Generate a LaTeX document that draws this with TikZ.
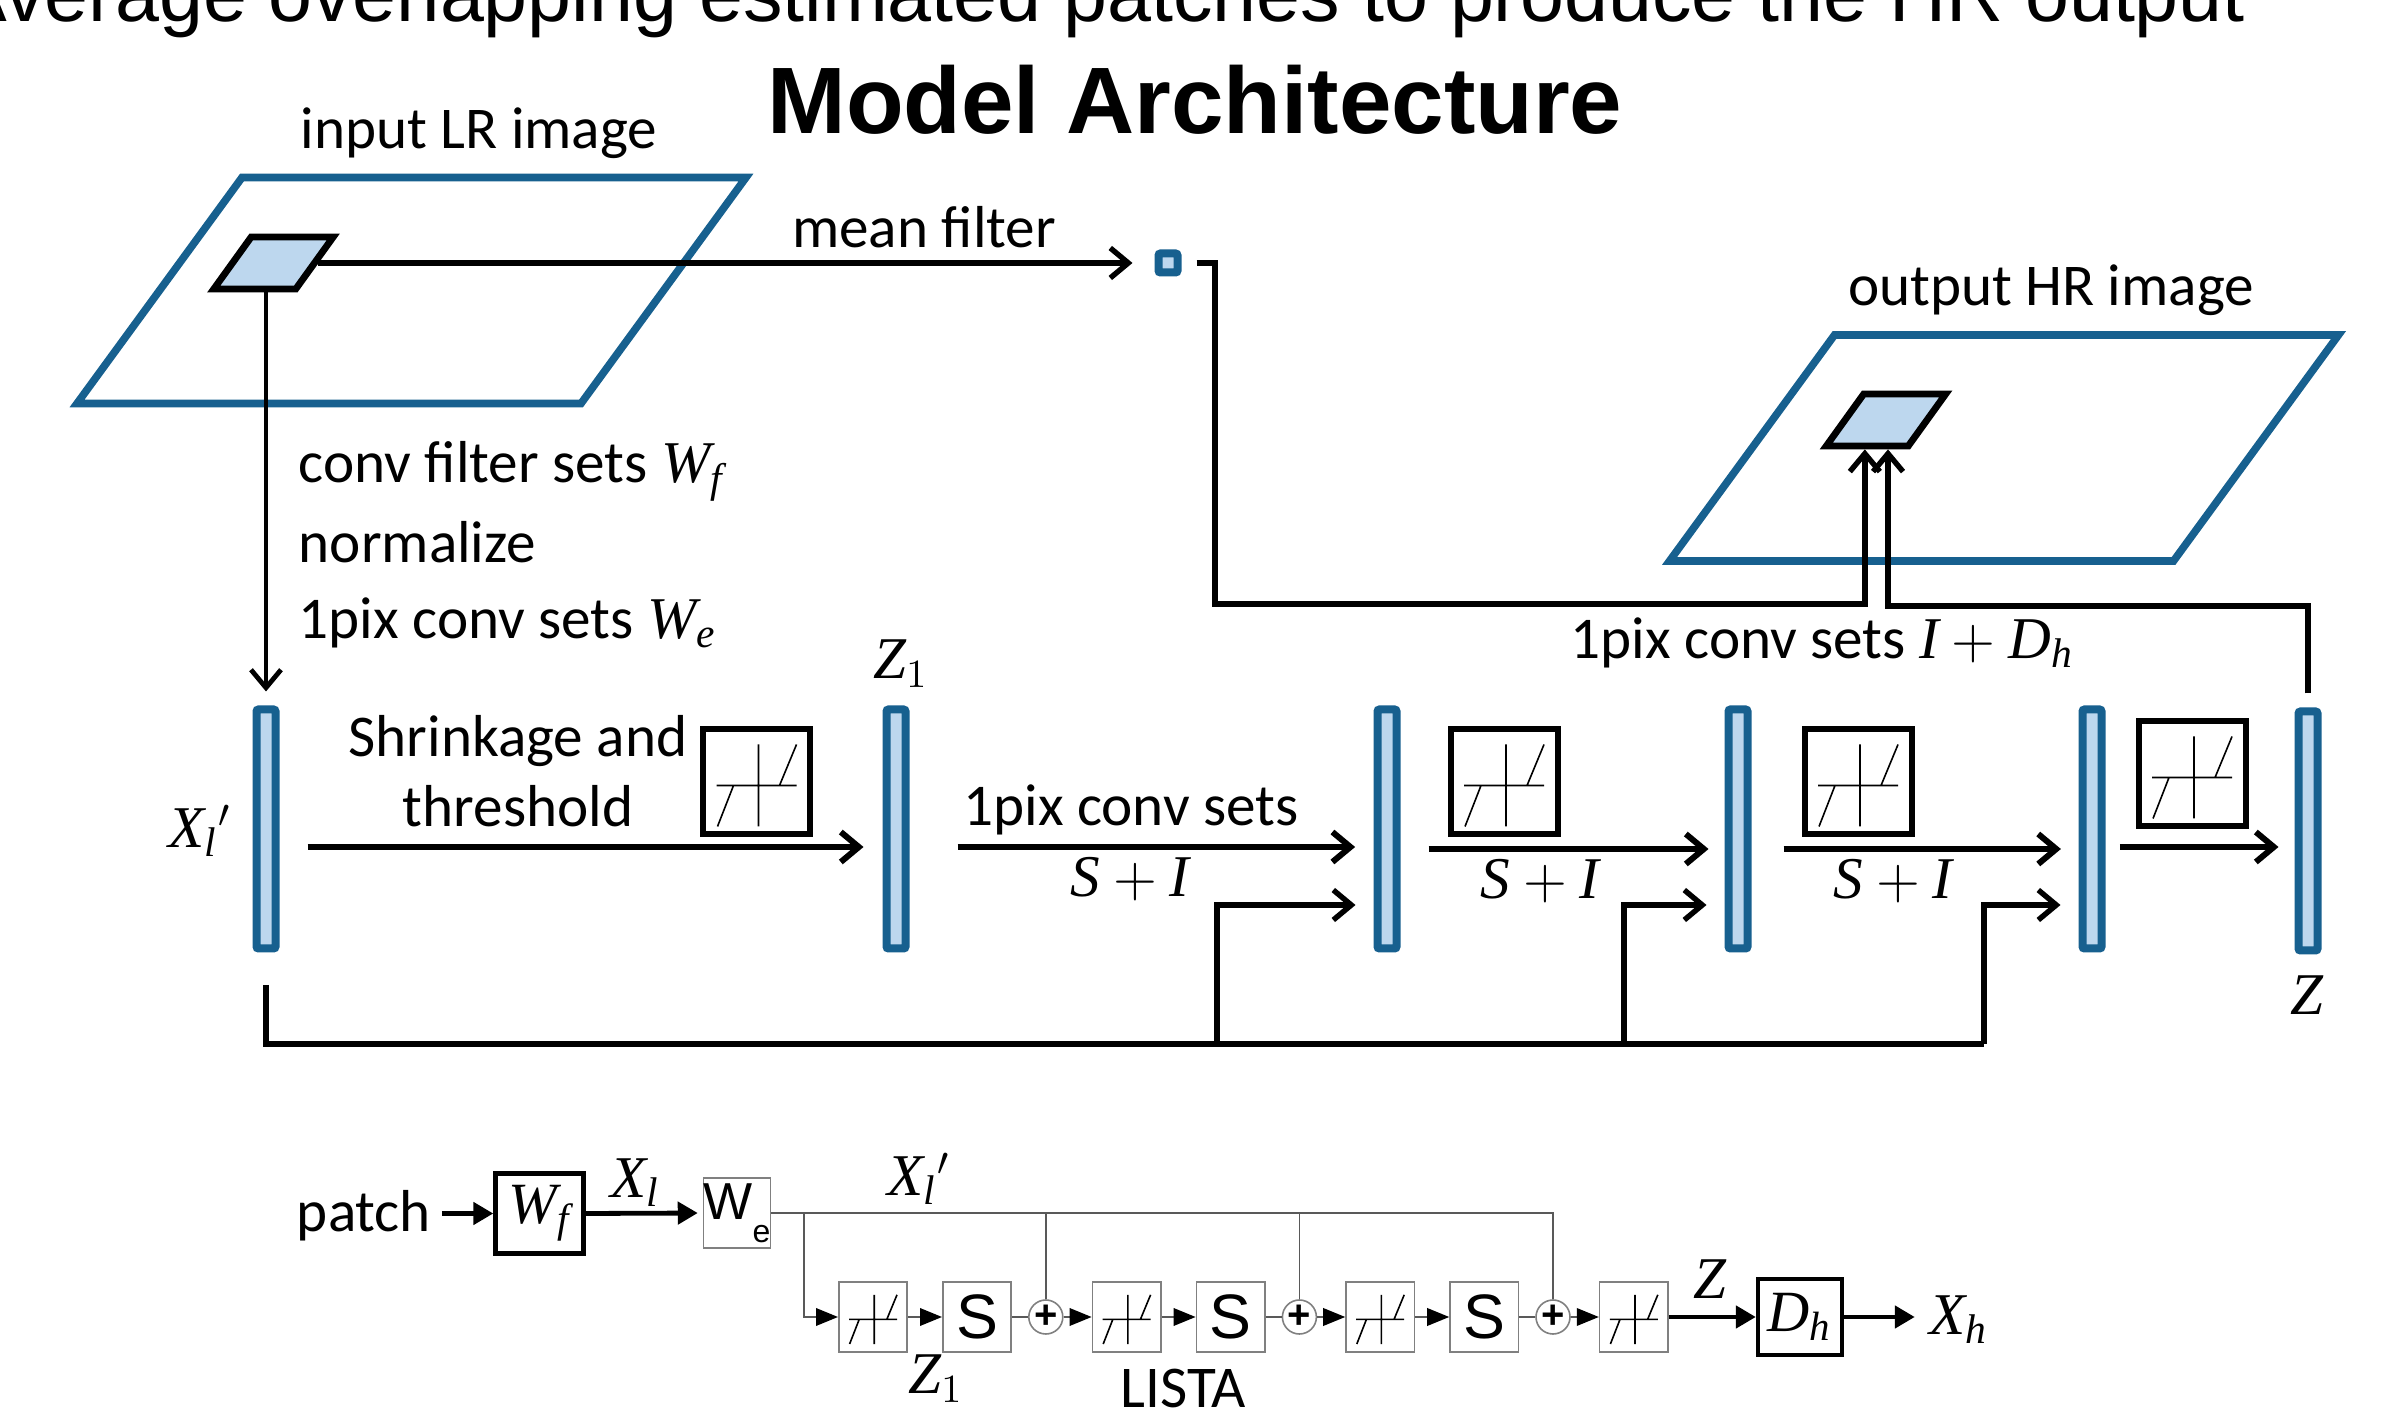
\documentclass[tikz,border=0pt]{standalone}
\usepackage{amsmath}
\usepackage{fontspec}
\setmainfont{Carlito}
\newfontfamily\arialfont{Liberation Sans}
\newfontfamily\serifit{Liberation Serif}
\usetikzlibrary{arrows.meta,positioning,calc}

\definecolor{slabblue}{HTML}{17608F}
\definecolor{slabfill}{HTML}{BDD7EE}

\newcommand{\mv}[1]{\text{\serifit\itshape #1}}

\tikzset{
  txt/.style={inner sep=0pt,font=\fontsize{14.8}{17}\selectfont},
  slab/.style={draw=slabblue,line width=1.9pt,xslant=0.73,transform shape,minimum width=126pt,minimum height=56.5pt,inner sep=0pt},
  patchbox/.style={draw=black,fill=slabfill,line width=1.7pt,xslant=0.72,transform shape,minimum width=20.5pt,minimum height=13pt,inner sep=0pt},
  barnode/.style={draw=slabblue,fill=slabfill,line width=2pt,rounded corners=0.5pt,minimum width=4.75pt,minimum height=59.75pt,inner sep=0pt},
  threshbox/.style={draw=black,line width=1.5pt,minimum width=26.75pt,minimum height=26.25pt,inner sep=0pt},
  listabox/.style={draw=gray,line width=0.4pt,minimum width=17.1pt,minimum height=17.5pt,inner sep=0pt,font=\arialfont\fontsize{15.7}{17}\selectfont},
  plusnode/.style={circle,draw=gray,line width=0.4pt,minimum size=8.5pt,inner sep=0pt,font=\arialfont\bfseries\fontsize{10}{10}\selectfont},
  blockbox/.style={draw=black,line width=1.1pt,inner sep=0pt,font=\fontsize{14.6}{17}\selectfont},
  mainline/.style={->,line width=1.35pt},
  blockline/.style={-{Triangle[length=5pt,width=5.5pt]},line width=1.2pt},
  wire/.style={gray!70!black,line width=0.4pt},
  wirearrow/.style={wire,-{Triangle[length=5.5pt,width=4.4pt,color=black]}},
}

\newcommand{\threshmark}[2]{
  \draw[shift={(#1.center)},scale=#2,line width=0.4pt]
    (-40,4) -- (40,4) (2,-37) -- (2,45) (23,4) -- (40,-37) (-23,4) -- (-39,45);
}

\begin{document}
\begin{tikzpicture}[x=0.25pt,y=-0.25pt,>={Straight Barb[length=4.5pt,width=7.5pt]}]
  \useasboundingbox (0,0) rectangle (2397,1419);

  \node[anchor=base east,inner sep=0pt,font=\arialfont\fontsize{19.75}{22}\selectfont] (headline) at (2246,22) {Average overlapping estimated patches to produce the HR output};
  \node[anchor=base,inner sep=0pt,font=\arialfont\bfseries\fontsize{23.6}{26}\selectfont] (title) at (1195,134) {Model Architecture};

  % images
  \node[slab] (lrimage) at (411.5,290.5) {};
  \node[patchbox] (lrpatch) at (273.5,263) {};
  \node[slab] (hrimage) at (2004,448) {};
  \node[patchbox] (hrpatch) at (1886,420) {};
  \node[barnode,minimum height=4.75pt] (meanbar) at (1168,263) {};

  \node[txt,anchor=base] (lrlabel) at (479,149) {input LR image};
  \node[txt,anchor=base] (hrlabel) at (2051,306) {output HR image};
  \node[txt,anchor=base] (meanlabel) at (924,248) {mean filter};
  \node[txt,anchor=base west] (convlabel) at (298,483) {conv filter sets $\mv{W}_{\mv{f}}$};
  \node[txt,anchor=base west] (normlabel) at (298,563) {normalize};
  \node[txt,anchor=base west] (pixlabel) at (298,639) {1pix conv sets $\mv{W}_{\mv{e}}$};
  \node[txt,anchor=base west] (outlabel) at (1570,659) {1pix conv sets $\mv{I}+\mv{D}_{\mv{h}}$};

  % feature bars
  \node[barnode] (xbar) at (266,829) {};
  \node[barnode] (zonebar) at (896,829) {};
  \node[barnode] (sbara) at (1387,829) {};
  \node[barnode] (sbarb) at (1738,829) {};
  \node[barnode] (sbarc) at (2092,829) {};
  \node[barnode] (zbar) at (2308,831) {};

  \node[txt,anchor=base] (xlabel) at (200,848) {$\mv{X}_{\mv{l}}{}'$};
  \node[txt,anchor=base] (zonelabel) at (901,679) {$\mv{Z}_1$};
  \node[txt,anchor=base] (zlabel) at (2307,1015) {$\mv{Z}$};
  \node[txt,anchor=base] (shrinklabel) at (518,757) {Shrinkage and};
  \node[txt,anchor=base] (threshlabel) at (518,827) {threshold};
  \node[txt,anchor=base] (setslabel) at (1131,826) {1pix conv sets};
  \node[txt,anchor=base] (silabela) at (1130,897) {$\mv{S}+\mv{I}$};
  \node[txt,anchor=base] (silabelb) at (1540,899) {$\mv{S}+\mv{I}$};
  \node[txt,anchor=base] (silabelc) at (1893,899) {$\mv{S}+\mv{I}$};

  \node[threshbox] (tha) at (756.5,781.5) {};
  \node[threshbox] (thb) at (1504,781.5) {};
  \node[threshbox] (thc) at (1858,781.5) {};
  \node[threshbox] (thd) at (2192,773.5) {};
  \foreach \b in {tha,thb,thc,thd} {\threshmark{\b}{1}}

  \coordinate (meanturn) at (1215,604);
  \coordinate (hrturn) at (1888,606);
  \coordinate (fbstart) at (266,985);
  \coordinate (fbend) at (1984,1044);
  \coordinate (tapa) at (1217,1044);
  \coordinate (tapb) at (1624,1044);

  \draw[mainline,shorten >=5.5pt] (lrpatch.east) -- (meanbar.west);
  \draw[mainline,line width=1.2pt,shorten >=3.5pt] (lrpatch.south -| xbar.north) -- (xbar.north);
  \draw[mainline,shorten <=3.75pt] (meanbar.east) -| (meanturn) -| (hrpatch.south);
  \draw[mainline,shorten <=3.5pt] (zbar.north) |- (hrturn) -- (hrturn |- hrpatch.south);

  \draw[mainline,line width=1.5pt,shorten <=7pt,shorten >=4.75pt] ([yshift=-4.5pt]xbar.east) -- ([yshift=-4.5pt]zonebar.west);
  \draw[mainline,line width=1.5pt,shorten <=12pt,shorten >=4.6pt] ([yshift=-4.5pt]zonebar.east) -- ([yshift=-4.5pt]sbara.west);
  \draw[mainline,line width=1.5pt,shorten <=7pt,shorten >=4pt] ([yshift=-5pt]sbara.east) -- ([yshift=-5pt]sbarb.west);
  \draw[mainline,line width=1.5pt,shorten <=8pt,shorten >=4.4pt] ([yshift=-5pt]sbarb.east) -- ([yshift=-5pt]sbarc.west);
  \draw[mainline,line width=1.5pt,shorten <=3.6pt,shorten >=4pt] ([yshift=-4.5pt]sbarc.east) -- ([yshift=-4pt]zbar.west);

  \draw[line width=1.35pt] (fbstart) |- (fbend);
  \draw[mainline,shorten >=4.5pt] (tapa) |- ($(sbara.west)+(0,76)$);
  \draw[mainline,shorten >=4.5pt] (tapb) |- ($(sbarb.west)+(0,76)$);
  \draw[mainline,shorten >=4.5pt] (fbend) |- ($(sbarc.west)+(0,76)$);

  % lower chain
  \node[txt,anchor=base] (patch) at (364,1232) {patch};
  \node[blockbox,minimum width=22pt,minimum height=20pt] (wfbox) at (539.5,1213.5) {$\mv{W}_{\mv{f}}$};
  \node[draw=gray,line width=0.4pt,minimum width=16pt,minimum height=17.5pt,inner sep=0pt,font=\arialfont\fontsize{13}{15}\selectfont] (webox) at (737,1213) {W\raisebox{-5.75pt}{\fontsize{8}{8}\selectfont e}};
  \node[txt,anchor=base] (xllabel) at (635,1198) {$\mv{X}_{\mv{l}}$};
  \node[txt,anchor=base] (xplabel) at (919,1196) {$\mv{X}_{\mv{l}}{}'$};

  \node[listabox] (lista) at (873,1317) {};
  \node[listabox,right=8.5pt of lista] (sa) {S};
  \node[plusnode,right=4pt of sa] (plusa) {+};
  \node[listabox,right=7pt of plusa] (listb) {};
  \node[listabox,right=8.5pt of listb] (sb) {S};
  \node[plusnode,right=4pt of sb] (plusb) {+};
  \node[listabox,right=7pt of plusb] (listc) {};
  \node[listabox,right=8.5pt of listc] (sc) {S};
  \node[plusnode,right=4pt of sc] (plusc) {+};
  \node[listabox,right=7pt of plusc] (listd) {};
  \foreach \b in {lista,listb,listc,listd} {\threshmark{\b}{0.6}}

  \node[blockbox,minimum width=21pt,minimum height=19pt] (dhbox) at (1800,1317) {$\mv{D}_{\mv{h}}$};
  \node[txt,anchor=base] (zonelow) at (936,1394) {$\mv{Z}_1$};
  \node[txt,anchor=base] (listalabel) at (1183,1408) {LISTA};
  \node[txt,anchor=base] (zlow) at (1710,1299) {$\mv{Z}$};
  \node[txt,anchor=base] (xh) at (1959,1335) {$\mv{X}_{\mv{h}}$};

  \draw[blockline,shorten <=2.5pt] (patch.east |- wfbox.west) -- (wfbox.west);
  \draw[blockline,shorten >=1.25pt] (wfbox.east) -- (webox.west);
  \draw[blockline] (listd.east) -- (dhbox.west);
  \draw[blockline,shorten >=3.5pt] (dhbox.east) -- (dhbox.east -| xh.west);

  \coordinate (branch) at (804,1213);
  \coordinate (wiretop) at (plusc.north |- webox.east);
  \draw[wire] (webox.east) -- (wiretop) -- (plusc.north);
  \draw[wire] (plusa.north |- webox.east) -- (plusa.north);
  \draw[wire] (plusb.north |- webox.east) -- (plusb.north);
  \draw[wirearrow] (branch) |- (lista.west);
  \foreach \p/\q in {lista/sa,plusa/listb,listb/sb,plusb/listc,listc/sc,plusc/listd}
    \draw[wirearrow] (\p.east) -- (\q.west);
  \foreach \p/\q in {sa/plusa,sb/plusb,sc/plusc}
    \draw[wire] (\p.east) -- (\q.west);
\end{tikzpicture}
\end{document}
